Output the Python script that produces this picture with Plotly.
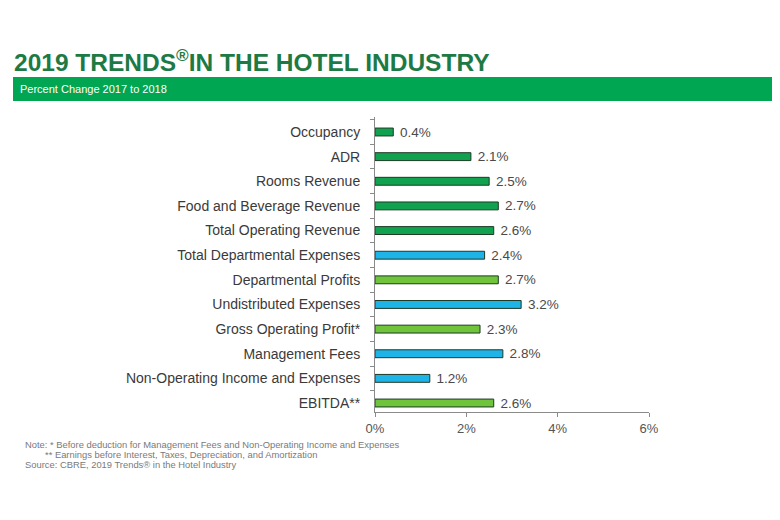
import plotly.graph_objects as go

categories = [
    "Occupancy", "ADR", "Rooms Revenue", "Food and Beverage Revenue",
    "Total Operating Revenue", "Total Departmental Expenses", "Departmental Profits",
    "Undistributed Expenses", "Gross Operating Profit*", "Management Fees",
    "Non-Operating Income and Expenses", "EBITDA**",
]
values = [0.4, 2.1, 2.5, 2.7, 2.6, 2.4, 2.7, 3.2, 2.3, 2.8, 1.2, 2.6]
kinds = ["revenue"] * 5 + ["expense", "profit", "expense", "profit", "expense", "expense", "profit"]
tick_vals = [0, 2, 4, 6]
tick_text = ["0%", "2%", "4%", "6%"]
footnotes = [
    "Note: * Before deduction for Management Fees and Non-Operating Income and Expenses",
    "** Earnings before Interest, Taxes, Depreciation, and Amortization",
    "Source: CBRE, 2019 Trends® in the Hotel Industry",
]

kind_colors = {"revenue": "#11A24F", "expense": "#1FB4E8", "profit": "#6FC43C"}
colors = [kind_colors[k] for k in kinds]

# figure geometry (page has an 8px body margin)
W, H = 772, 512
L, T, PW, PH = 367, 109, 274, 295


def px(x):
    return (x - L) / PW


def py(y):
    return 1 - (y - T) / PH


fig = go.Figure()
fig.add_trace(go.Bar(
    x=values, y=categories, orientation="h",
    marker=dict(color=colors, line=dict(color="#1d3a25", width=1)),
    width=0.32,
    text=[f" {v:.1f}%" for v in values], textposition="outside",
    constraintext="none",
    textfont=dict(family="Liberation Sans, Arial, sans-serif", size=13.5, color="#4a4a4a"),
    cliponaxis=False,
    hoverinfo="skip",
))

annotations = [
    dict(text="<b>2019 TRENDS<sup>®</sup>IN THE HOTEL INDUSTRY</b>", xref="paper", yref="paper",
         x=px(4), y=py(35), xanchor="left", yanchor="top", showarrow=False,
         font=dict(family="Liberation Sans, Arial, sans-serif", size=24.5, color="#1D7A44")),
    dict(text="Percent Change 2017 to 2018", xref="paper", yref="paper",
         x=px(10), y=py(81), xanchor="left", yanchor="middle", showarrow=False,
         font=dict(size=11, color="white")),
]
foot_pos = [(15, 436), (35, 446), (15, 456)]
for txt, (fx, fy) in zip(footnotes, foot_pos):
    annotations.append(dict(text=txt, xref="paper", yref="paper", x=px(fx), y=py(fy),
                            xanchor="left", yanchor="middle", showarrow=False,
                            font=dict(size=9.4, color="#7a7a7a")))

fig.update_layout(
    width=W, height=H,
    margin=dict(l=L, r=W - L - PW, t=T, b=H - T - PH, autoexpand=False),
    paper_bgcolor="white", plot_bgcolor="white",
    showlegend=False,
    font=dict(family="Liberation Sans, Arial, sans-serif"),
    xaxis=dict(
        range=[0, 6], tickvals=tick_vals, ticktext=tick_text,
        showgrid=False, zeroline=False, showline=True, linecolor="#8a8a8a", linewidth=1,
        ticks="outside", ticklen=4, tickcolor="#8a8a8a",
        tickfont=dict(size=13, color="#555555"), fixedrange=True,
    ),
    yaxis=dict(
        categoryorder="array", categoryarray=categories, range=[11.365, -0.609],
        showgrid=False, zeroline=False, showline=True, linecolor="#8a8a8a", linewidth=1,
        ticks="outside", ticklen=4, tickcolor="#8a8a8a", tickson="boundaries",
        tickfont=dict(size=14, color="#3a3a3a"), ticklabelstandoff=11, fixedrange=True,
    ),
    shapes=[dict(type="rect", xref="paper", yref="paper",
                 x0=px(5), x1=px(766), y0=py(93), y1=py(69),
                 fillcolor="#00A651", line=dict(width=0), layer="below")],
    annotations=annotations,
)

fig.write_html("out.html")
